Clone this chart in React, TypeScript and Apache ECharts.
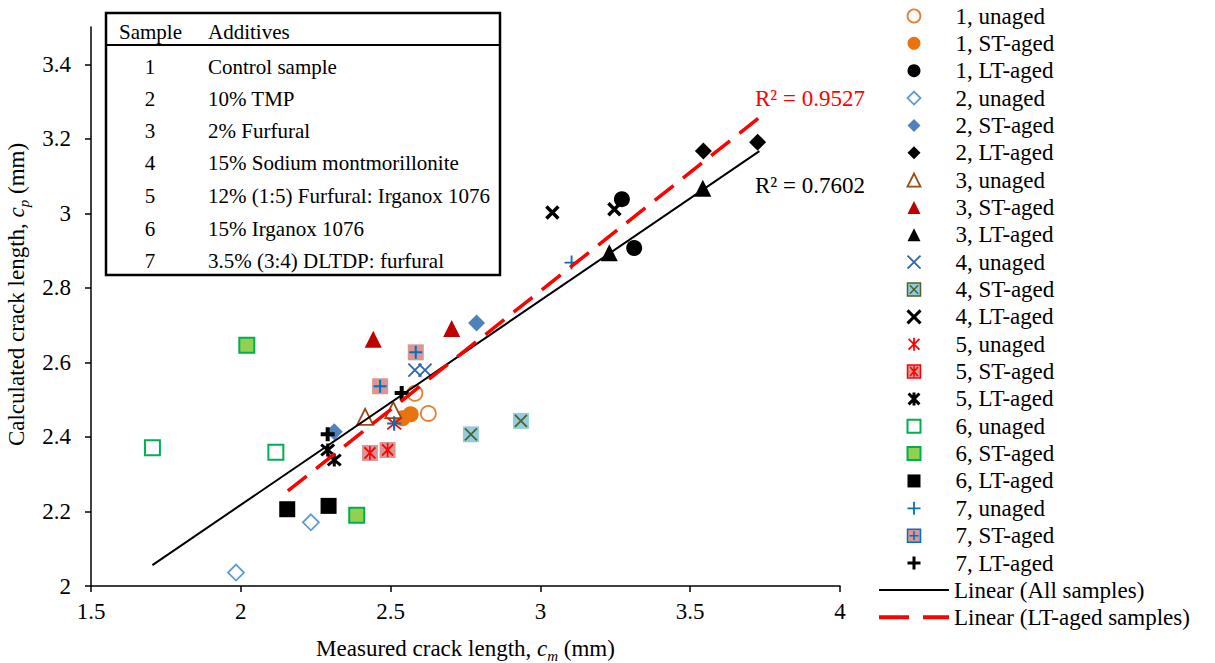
import React, { useEffect, useRef } from 'react';
import * as echarts from 'echarts';

const FONT = '"Liberation Serif", "Times New Roman", serif';

// ---- data (measured, calculated) ----
const s1Unaged = [[2.581, 2.517], [2.626, 2.463]];
const s1ST = [[2.540, 2.450], [2.567, 2.461]];
const s1LT = [[3.272, 3.038], [3.313, 2.907]];
const s2Unaged = [[2.234, 2.171], [1.984, 2.036]];
const s2ST = [[2.787, 2.706], [2.312, 2.414]];
const s2LT = [[3.544, 3.167], [3.725, 3.191]];
const s3Unaged = [[2.415, 2.454], [2.509, 2.472]];
const s3ST = [[2.442, 2.662], [2.704, 2.691]];
const s3LT = [[3.542, 3.067], [3.230, 2.894]];
const s4Unaged = [[2.581, 2.579], [2.615, 2.579]];
const s4ST = [[2.768, 2.407], [2.935, 2.443]];
const s4LT = [[3.040, 3.002], [3.247, 3.011]];
const s5Unaged = [[2.512, 2.436]];
const s5ST = [[2.431, 2.357], [2.490, 2.365]];
const s5LT = [[2.290, 2.365], [2.312, 2.338]];
const s6Unaged = [[1.705, 2.371], [2.117, 2.359]];
const s6ST = [[2.020, 2.646], [2.387, 2.190]];
const s6LT = [[2.155, 2.206], [2.293, 2.215]];
const s7Unaged = [[3.104, 2.868], [2.512, 2.436]];
const s7ST = [[2.584, 2.627], [2.465, 2.536]];
const s7LT = [[2.290, 2.407], [2.537, 2.518]];

const trendAll = [[1.705, 2.056], [3.731, 3.167]];
const trendLT = [[2.157, 2.255], [3.731, 3.257]];
const r2All = 'R² = 0.7602';
const r2LT = 'R² = 0.9527';

const xTicks = [1.5, 2, 2.5, 3, 3.5, 4];
const yTicks = [2, 2.2, 2.4, 2.6, 2.8, 3, 3.2, 3.4];

const tableHeader = ['Sample', 'Additives'];
const tableSamples = ['1', '2', '3', '4', '5', '6', '7'];
const tableAdditives = [
  'Control sample',
  '10% TMP',
  '2% Furfural',
  '15% Sodium montmorillonite',
  '12% (1:5) Furfural: Irganox 1076',
  '15% Irganox 1076',
  '3.5% (3:4) DLTDP: furfural',
];

// ---- symbol paths ----
const P_X = 'path://M0,0L10,10M10,0L0,10';
const P_AST = 'path://M0,0L10,10M10,0L0,10M5,-1L5,11';
const P_PLUS = 'path://M5,0L5,10M0,5L10,5';
const P_AST8 = 'path://M0,1L8,9M8,1L0,9M4,0L4,10';
const P_SQX = 'path://M0,0L10,0L10,10L0,10ZM1.8,1.8L8.2,8.2M8.2,1.8L1.8,8.2';
const P_SQAST = 'path://M0,0L10,0L10,10L0,10ZM2,1.5L8,8.5M8,1.5L2,8.5M5,1L5,9';
const P_SQPLUS = 'path://M0,0L10,0L10,10L0,10ZM5,1.5L5,8.5M1.5,5L8.5,5';

type Def = {
  name: string; data: number[][]; symbol: string; size: number;
  color: string; border: string; bw: number;
  overlay?: { symbol: string; size: number | number[]; color: string; bw: number };
  legendIcon?: string; legendBorder?: string;
};

const defs: Def[] = [
  { name: '1, unaged', data: s1Unaged, symbol: 'circle', size: 15, color: '#fff', border: '#ED7D31', bw: 1.8 },
  { name: '1, ST-aged', data: s1ST, symbol: 'circle', size: 16, color: '#E8730F', border: '#E8730F', bw: 0 },
  { name: '1, LT-aged', data: s1LT, symbol: 'circle', size: 16, color: '#000', border: '#000', bw: 0 },
  { name: '2, unaged', data: s2Unaged, symbol: 'diamond', size: 16, color: '#fff', border: '#5B9BD5', bw: 1.8 },
  { name: '2, ST-aged', data: s2ST, symbol: 'diamond', size: 17, color: '#4F81BD', border: '#4F81BD', bw: 0 },
  { name: '2, LT-aged', data: s2LT, symbol: 'diamond', size: 17, color: '#000', border: '#000', bw: 0 },
  { name: '3, unaged', data: s3Unaged, symbol: 'triangle', size: 16, color: '#fff', border: '#9C4A10', bw: 1.8 },
  { name: '3, ST-aged', data: s3ST, symbol: 'triangle', size: 17, color: '#C00000', border: '#C00000', bw: 0 },
  { name: '3, LT-aged', data: s3LT, symbol: 'triangle', size: 17, color: '#000', border: '#000', bw: 0 },
  { name: '4, unaged', data: s4Unaged, symbol: P_X, size: 13, color: 'none', border: '#2E67A8', bw: 1.8 },
  { name: '4, ST-aged', data: s4ST, symbol: 'rect', size: 16, color: '#93CDDD', border: '#93CDDD', bw: 0,
    overlay: { symbol: P_X, size: 12, color: '#4F6228', bw: 1.8 }, legendIcon: P_SQX, legendBorder: '#4F6228' },
  { name: '4, LT-aged', data: s4LT, symbol: P_X, size: 12, color: 'none', border: '#000', bw: 3.5 },
  { name: '5, unaged', data: s5Unaged, symbol: P_AST, size: 14, color: 'none', border: '#FF0000', bw: 1.8 },
  { name: '5, ST-aged', data: s5ST, symbol: 'rect', size: 16, color: '#DA9694', border: '#DA9694', bw: 0,
    overlay: { symbol: P_AST8, size: [11, 14], color: '#FF0000', bw: 1.8 }, legendIcon: P_SQAST, legendBorder: '#FF0000' },
  { name: '5, LT-aged', data: s5LT, symbol: P_AST, size: 13, color: 'none', border: '#000', bw: 3 },
  { name: '6, unaged', data: s6Unaged, symbol: 'rect', size: 15, color: '#fff', border: '#00B050', bw: 2 },
  { name: '6, ST-aged', data: s6ST, symbol: 'rect', size: 15, color: '#92D050', border: '#00B050', bw: 2 },
  { name: '6, LT-aged', data: s6LT, symbol: 'rect', size: 16, color: '#000', border: '#000', bw: 0 },
  { name: '7, unaged', data: s7Unaged, symbol: P_PLUS, size: 14, color: 'none', border: '#0070C0', bw: 1.8 },
  { name: '7, ST-aged', data: s7ST, symbol: 'rect', size: 16, color: '#DA9694', border: '#DA9694', bw: 0,
    overlay: { symbol: P_PLUS, size: 13, color: '#0070C0', bw: 2 }, legendIcon: P_SQPLUS, legendBorder: '#0070C0' },
  { name: '7, LT-aged', data: s7LT, symbol: P_PLUS, size: 14, color: 'none', border: '#000', bw: 4 },
];

const LINE_ALL = 'Linear (All samples)';
const LINE_LT = 'Linear (LT-aged samples)';

function buildOption() {
  const series: any[] = [];
  defs.forEach((d) => {
    series.push({
      type: 'scatter', name: d.name, data: d.data, symbol: d.symbol, symbolSize: d.size,
      itemStyle: { color: d.color, borderColor: d.border, borderWidth: d.bw, opacity: 1 },
    });
    if (d.overlay) {
      const ov = d.overlay;
      series.push({
        type: 'scatter', name: d.name + ' ', data: d.data, symbol: ov.symbol, symbolSize: ov.size,
        itemStyle: { color: 'none', borderColor: ov.color, borderWidth: ov.bw, opacity: 1 },
      });
    }
  });
  series.push({
    type: 'line', name: LINE_ALL, data: trendAll, symbol: 'none', showSymbol: false,
    lineStyle: { color: '#000', width: 2 }, itemStyle: { color: '#000' },
  });
  series.push({
    type: 'line', name: LINE_LT, data: trendLT, symbol: 'none', showSymbol: false,
    lineStyle: { color: '#FF0000', width: 3.5, type: [24, 12] }, itemStyle: { color: '#FF0000' },
  });

  const textStyle = { fontFamily: FONT, fontSize: 23, color: '#000', lineHeight: 24 };

  const legend1 = {
    orient: 'vertical', left: 905, top: 4, padding: 0, itemWidth: 13, itemHeight: 13, itemGap: 3.35,
    textStyle: { ...textStyle, padding: [0, 0, 0, 30] }, selectedMode: false,
    data: defs.map((d) => ({
      name: d.name,
      icon: d.legendIcon || d.symbol,
      itemStyle: d.legendIcon
        ? { color: d.color, borderColor: d.legendBorder, borderWidth: 1.5 }
        : { color: d.color, borderColor: d.border, borderWidth: d.bw === 0 ? 0 : Math.min(d.bw, 3) },
    })),
  };
  const legend2 = {
    orient: 'vertical', left: 877, top: 578, padding: 0, itemWidth: 70, itemHeight: 14, itemGap: 3.35,
    textStyle, selectedMode: false,
    itemStyle: { opacity: 0 },
    data: [
      { name: LINE_ALL, lineStyle: { color: '#000', width: 2, type: 'solid' } },
      { name: LINE_LT, lineStyle: { color: '#FF0000', width: 4, type: [30, 14] } },
    ],
  };

  const rowY = [67, 99, 131, 163, 196, 229, 261];
  const tableChildren: any[] = [
    { type: 'rect', shape: { x: 106, y: 13, width: 394, height: 262 }, style: { fill: '#fff', stroke: '#000', lineWidth: 2.5 } },
    { type: 'line', shape: { x1: 106, y1: 45, x2: 500, y2: 45 }, style: { stroke: '#000', lineWidth: 2 } },
    { type: 'text', x: 119, y: 32, style: { text: tableHeader[0], font: `21px ${FONT}`, fill: '#000', verticalAlign: 'middle' } },
    { type: 'text', x: 208, y: 32, style: { text: tableHeader[1], font: `21px ${FONT}`, fill: '#000', verticalAlign: 'middle' } },
  ];
  tableSamples.forEach((s, i) => {
    tableChildren.push({ type: 'text', x: 150, y: rowY[i], style: { text: s, font: `21px ${FONT}`, fill: '#000', align: 'center', verticalAlign: 'middle' } });
    tableChildren.push({ type: 'text', x: 208, y: rowY[i], style: { text: tableAdditives[i], font: `21px ${FONT}`, fill: '#000', verticalAlign: 'middle' } });
  });

  const rich = {
    n: { fontFamily: FONT, fontSize: 23, color: '#000' },
    i: { fontFamily: FONT, fontSize: 23, color: '#000', fontStyle: 'italic' },
    s: { fontFamily: FONT, fontSize: 15, color: '#000', fontStyle: 'italic', padding: [14, 0, 0, 0] },
  };

  return {
    animation: false,
    backgroundColor: '#fff',
    grid: { left: 91, right: 375, top: 27, bottom: 77, containLabel: false, outerBoundsMode: 'none' },
    xAxis: {
      type: 'value', min: 1.5, max: 4, interval: 0.5,
      name: '{n|Measured crack length, }{i|c}{s|m}{n| (mm)}',
      nameLocation: 'middle', nameGap: 48,
      nameTextStyle: { rich },
      axisLine: { lineStyle: { color: '#000', width: 1.5 } },
      axisTick: { inside: false, length: 6, lineStyle: { color: '#000', width: 1.5 }, customValues: xTicks },
      axisLabel: { fontFamily: FONT, fontSize: 23, color: '#000', margin: 14, customValues: xTicks },
      splitLine: { show: false },
    },
    yAxis: {
      type: 'value', min: 2, max: 3.5,
      name: '{n|Calculated crack length, }{i|c}{s|p}{n| (mm)}',
      nameLocation: 'middle', nameGap: 57,
      nameTextStyle: { padding: [0, 0, 0, 24], rich },
      axisLine: { show: true, lineStyle: { color: '#000', width: 1.5 } },
      axisTick: { show: true, inside: false, length: 6, lineStyle: { color: '#000', width: 1.5 }, customValues: yTicks },
      axisLabel: { fontFamily: FONT, fontSize: 23, color: '#000', margin: 20, customValues: yTicks },
      splitLine: { show: false },
    },
    legend: [legend1, legend2],
    graphic: [
      { type: 'group', children: tableChildren, z: 100 },
      { type: 'text', x: 755, y: 98, z: 100, style: { text: r2LT, font: `23px ${FONT}`, fill: '#FF0000', verticalAlign: 'middle' } },
      { type: 'text', x: 755, y: 185, z: 100, style: { text: r2All, font: `23px ${FONT}`, fill: '#000', verticalAlign: 'middle' } },
    ],
    series,
  };
}

export default function App() {
  const ref = useRef<HTMLDivElement>(null);
  useEffect(() => {
    document.body.style.margin = '0';
    if (!ref.current) return;
    const chart = echarts.init(ref.current, undefined, { renderer: 'svg' });
    chart.setOption(buildOption() as any);
    return () => chart.dispose();
  }, []);
  return <div ref={ref} style={{ width: 1215, height: 663 }} />;
}
